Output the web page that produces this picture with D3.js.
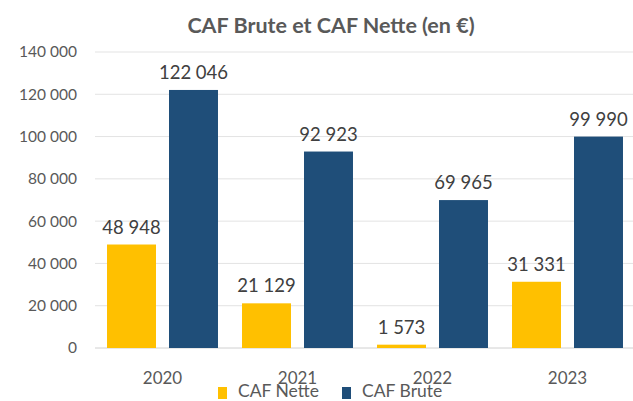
<!DOCTYPE html>
<html>
<head>
<meta charset="utf-8">
<script src="https://cdn.jsdelivr.net/npm/d3@7"></script>
<style>
  body { margin: 0; background: #fff; }
  text { font-family: Lato, "Open Sans", sans-serif; }
</style>
</head>
<body>
<div id="chart"></div>
<script>
const years = ["2020", "2021", "2022", "2023"];
const cafNette = [48948, 21129, 1573, 31331];
const cafBrute = [122046, 92923, 69965, 99990];
const yTicks = [0, 20000, 40000, 60000, 80000, 100000, 120000, 140000];
const seriesNames = ["CAF Nette", "CAF Brute"];
const seriesColors = ["#FFC000", "#1F4E79"];

function main() {
    const W = 633, H = 401;
    const left = 95, right = 635, top = 52, bottom = 348;

    const fr = d3.formatLocale({ decimal: ",", thousands: " ", grouping: [3], currency: ["", " €"] });
    const fmt = fr.format(",d");

    const svg = d3.select("#chart").append("svg")
        .attr("width", W)
        .attr("height", H);

    const x = d3.scaleBand().domain(years).range([left, right]).paddingInner(0.178).paddingOuter(0.089);
    const x1 = d3.scaleBand().domain(seriesNames).range([0, x.bandwidth()]).paddingInner(0.21).paddingOuter(0);
    const y = d3.scaleLinear().domain([0, 140000]).range([bottom, top]);

    // gridlines
    svg.append("g").selectAll("line")
        .data(yTicks)
        .enter().append("line")
        .attr("x1", left).attr("x2", W)
        .attr("y1", d => y(d)).attr("y2", d => y(d))
        .attr("stroke", d => d === 0 ? "#d0d0d0" : "#e3e3e3")
        .attr("stroke-width", 1);

    // y axis labels
    const yAxis = svg.append("g")
        .attr("transform", "translate(" + (left - 18) + ",0)")
        .call(d3.axisLeft(y).tickValues(yTicks).tickFormat(fmt).tickSize(0).tickPadding(0));
    yAxis.select(".domain").remove();
    yAxis.selectAll("text")
        .attr("font-size", "15.5px")
        .attr("fill", "#595959")
        .style("font-family", "Lato, sans-serif");

    // x axis labels
    const xAxis = svg.append("g")
        .attr("transform", "translate(0," + (bottom + 16) + ")")
        .call(d3.axisBottom(x).tickSize(0).tickPadding(8));
    xAxis.select(".domain").remove();
    xAxis.selectAll("text")
        .attr("font-size", "17px")
        .attr("fill", "#595959")
        .style("font-family", "Lato, sans-serif");

    const data = years.map((yr, i) => ({ year: yr, values: [cafNette[i], cafBrute[i]] }));

    const groups = svg.append("g").selectAll("g")
        .data(data)
        .enter().append("g")
        .attr("transform", d => "translate(" + x(d.year) + ",0)");

    groups.selectAll("rect")
        .data(d => d.values.map((v, j) => ({ name: seriesNames[j], value: v, color: seriesColors[j] })))
        .enter().append("rect")
        .attr("x", d => x1(d.name))
        .attr("width", x1.bandwidth())
        .attr("y", d => y(d.value))
        .attr("height", d => y(0) - y(d.value))
        .attr("fill", d => d.color);

    groups.selectAll("text.val")
        .data(d => d.values.map((v, j) => ({ name: seriesNames[j], value: v })))
        .enter().append("text")
        .attr("class", "val")
        .attr("x", d => x1(d.name) + x1.bandwidth() / 2)
        .attr("y", d => y(d.value) - 11)
        .attr("text-anchor", "middle")
        .attr("font-size", "18.5px")
        .attr("fill", "#404040")
        .text(d => fmt(d.value));

    // title
    svg.append("text")
        .attr("x", 331)
        .attr("y", 33)
        .attr("text-anchor", "middle")
        .attr("font-size", "21.5px")
        .attr("font-weight", "bold")
        .attr("fill", "#595959")
        .text("CAF Brute et CAF Nette (en €)");

    // legend
    const legend = svg.append("g").attr("transform", "translate(218,386)");
    const legendX = [0, 124];
    seriesNames.forEach((n, i) => {
        legend.append("rect")
            .attr("x", legendX[i]).attr("y", 1)
            .attr("width", 9).attr("height", 12)
            .attr("fill", seriesColors[i]);
        legend.append("text")
            .attr("x", legendX[i] + 20).attr("y", 11)
            .attr("font-size", "17.5px")
            .attr("fill", "#595959")
            .text(n);
    });
}
main();
</script>
</body>
</html>
